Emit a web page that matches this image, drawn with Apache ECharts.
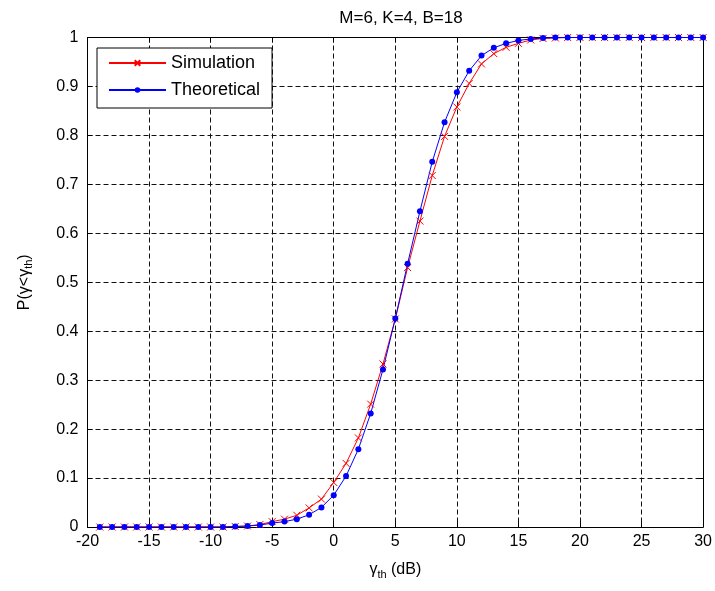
<!DOCTYPE html>
<html>
<head>
<meta charset="utf-8">
<script src="https://cdn.jsdelivr.net/npm/echarts@6/dist/echarts.min.js"></script>
<style>html,body{margin:0;padding:0;background:#fff;}#c{width:715px;height:591px;}</style>
</head>
<body>
<div id="c"></div>
<script>
var xValues = [-19,-18,-17,-16,-15,-14,-13,-12,-11,-10,-9,-8,-7,-6,-5,-4,-3,-2,-1,0,1,2,3,4,5,6,7,8,9,10,11,12,13,14,15,16,17,18,19,20,21,22,23,24,25,26,27,28,29,30];
var simulation = [0,0,0,0,0,0,0,0,0,0,0,0.001,0.002,0.005,0.011,0.016,0.024,0.039,0.057,0.091,0.13,0.182,0.251,0.333,0.425,0.53,0.625,0.718,0.798,0.858,0.906,0.946,0.967,0.98,0.988,0.995,0.998,0.999,1,1,1,1,1,1,1,1,1,1,1,1];
var theoretical = [0,0,0,0,0,0,0,0,0,0,0,0.001,0.002,0.004,0.008,0.011,0.016,0.025,0.04,0.065,0.104,0.159,0.232,0.322,0.426,0.538,0.645,0.746,0.827,0.888,0.932,0.963,0.979,0.988,0.994,0.997,0.999,1,1,1,1,1,1,1,1,1,1,1,1,1];
var seriesNames = ['Simulation', 'Theoretical'];
var titleText = 'M=6, K=4, B=18';

function pairs(ys){ return xValues.map(function(x,i){ return [x, ys[i]]; }); }

var FONT = 'Liberation Sans';
var chart = echarts.init(document.getElementById('c'), null, {renderer:'canvas'});
var axisCommon = {
  type: 'value',
  axisLine: {show: true, onZero: false, lineStyle: {color: '#000', width: 1}},
  axisTick: {show: true, inside: true, length: 5, lineStyle: {color: '#000'}},
  axisLabel: {color: '#000', fontFamily: FONT, fontSize: 16},
};
chart.setOption({
  animation: false,
  backgroundColor: '#fff',
  title: {text: titleText, top: 5, left: 396, textAlign: 'center', textStyle: {fontFamily: FONT, fontSize: 17, fontWeight: 'normal', color: '#000'}},
  grid: {left: 87.5, right: 11, top: 37.5, bottom: 64, containLabel: false},
  legend: {
    orient: 'vertical', left: 97, top: 48,
    data: seriesNames,
    backgroundColor: '#fff', borderColor: '#000', borderWidth: 1, borderRadius: 0,
    padding: [6, 12, 9, 11], itemGap: 9, itemWidth: 57, itemHeight: 7,
    textStyle: {fontFamily: FONT, fontSize: 18, color: '#000'}
  },
  xAxis: [
    Object.assign({}, axisCommon, {
      min: -20, max: 30, interval: 5, position: 'bottom',
      axisLabel: {color: '#000', fontFamily: FONT, fontSize: 16, margin: 7},
      splitLine: {show: true, lineStyle: {color: '#111', type: [5, 3], width: 1}},
      name: '{a|γ}{s|th}{a| (dB)}', nameLocation: 'middle', nameGap: 33,
      nameTextStyle: {rich: {a: {fontFamily: FONT, fontSize: 16, color: '#000'}, s: {fontFamily: FONT, fontSize: 11, color: '#000', padding: [9, 0, 0, 0]}}}
    }),
    Object.assign({}, axisCommon, {
      min: -20, max: 30, interval: 5, position: 'top',
      axisLabel: {show: false}, splitLine: {show: false}
    })
  ],
  yAxis: [
    Object.assign({}, axisCommon, {
      min: 0, max: 1, interval: 0.1, position: 'left',
      axisLabel: {color: '#000', fontFamily: FONT, fontSize: 16, margin: 9},
      splitLine: {show: true, lineStyle: {color: '#111', type: [5, 3], width: 1}},
      name: '{a|P(γ<γ}{s|th}{a|)}', nameLocation: 'middle', nameGap: 53, nameRotate: 90,
      nameTextStyle: {rich: {a: {fontFamily: FONT, fontSize: 16, color: '#000'}, s: {fontFamily: FONT, fontSize: 11, color: '#000', padding: [9, 0, 0, 0]}}}
    }),
    Object.assign({}, axisCommon, {
      min: 0, max: 1, interval: 0.1, position: 'right',
      axisLabel: {show: false}, splitLine: {show: false}
    })
  ],
  series: [
    {
      name: seriesNames[0], type: 'line', xAxisIndex: 0, yAxisIndex: 0,
      data: pairs(simulation),
      symbol: 'path://M0,0L10,10M10,0L0,10', symbolSize: 7, showSymbol: true,
      lineStyle: {color: '#ff0000', width: 1},
      itemStyle: {color: '#ff0000', borderColor: '#ff0000', borderWidth: 1}
    },
    {
      name: seriesNames[1], type: 'line', xAxisIndex: 0, yAxisIndex: 0,
      data: pairs(theoretical),
      symbol: 'circle', symbolSize: 6, showSymbol: true,
      lineStyle: {color: '#0000ff', width: 1},
      itemStyle: {color: '#0000ff', borderColor: '#0000ff', borderWidth: 0}
    }
  ]
});
</script>
</body>
</html>
